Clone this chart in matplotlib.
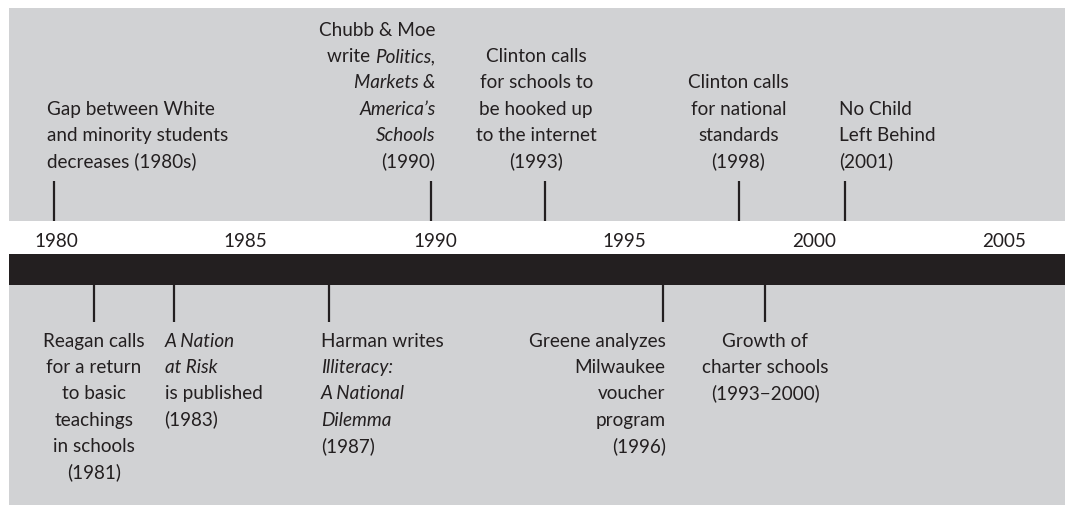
import matplotlib
matplotlib.use("Agg")
import matplotlib.pyplot as plt
from matplotlib import rc

rc('font', **{'family': 'Lato', 'size': 13.6})

# axis years shown under the grey panel
tick_years = [1980, 1985, 1990, 1995, 2000, 2005]

# events above the bar: position on the timeline (year), text lines
top_years = [1979.95, 1989.9, 1992.9, 1998.0, 2000.8]
top_texts = [
    [[('Gap between White', 'normal')],
     [('and minority students', 'normal')],
     [('decreases (1980s)', 'normal')]],
    [[('Chubb & Moe', 'normal')],
     [('write ', 'normal'), ('Politics,', 'italic')],
     [('Markets &', 'italic')],
     [('America\u2019s', 'italic')],
     [('Schools', 'italic')],
     [('(1990)', 'normal')]],
    [[('Clinton calls', 'normal')],
     [('for schools to', 'normal')],
     [('be hooked up', 'normal')],
     [('to the internet', 'normal')],
     [('(1993)', 'normal')]],
    [[('Clinton calls', 'normal')],
     [('for national', 'normal')],
     [('standards', 'normal')],
     [('(1998)', 'normal')]],
    [[('No Child', 'normal')],
     [('Left Behind', 'normal')],
     [('(2001)', 'normal')]],
]

# events below the bar
bottom_years = [1981.0, 1983.1, 1987.2, 1996.0, 1998.7]
bottom_texts = [
    [[('Reagan calls', 'normal')],
     [('for a return', 'normal')],
     [('to basic', 'normal')],
     [('teachings', 'normal')],
     [('in schools', 'normal')],
     [('(1981)', 'normal')]],
    [[('A Nation', 'italic')],
     [('at Risk', 'italic')],
     [('is published', 'normal')],
     [('(1983)', 'normal')]],
    [[('Harman writes', 'normal')],
     [('Illiteracy:', 'italic')],
     [('A National', 'italic')],
     [('Dilemma', 'italic')],
     [('(1987)', 'normal')]],
    [[('Greene analyzes', 'normal')],
     [('Milwaukee', 'normal')],
     [('voucher', 'normal')],
     [('program', 'normal')],
     [('(1996)', 'normal')]],
    [[('Growth of', 'normal')],
     [('charter schools', 'normal')],
     [('(1993\u22122000)', 'normal')]],
]

# layout: alignment and horizontal text offset (px) relative to each event line
top_align = ['left', 'right', 'center', 'center', 'left']
top_dx = [-7, 4, -9, 0, -6]
bottom_align = ['center', 'left', 'left', 'right', 'center']
bottom_dx = [0, -9, -8, 3, 0]

GREY = '#d1d2d4'
INK = '#231f20'
W, H = 1065, 506
PX_PER_YEAR = 37.92
X0 = 1980 - 56 / PX_PER_YEAR
X1 = X0 + W / PX_PER_YEAR
LINE_H = 26.2


def draw_lines(ax, x_year, dx, lines, ha, first_baseline, step):
    for i, segs in enumerate(lines):
        yb = first_baseline + i * step
        prev = None
        # mixed style lines are right aligned: draw last piece first
        for txt, st in reversed(segs):
            if prev is None:
                prev = ax.annotate(txt, xy=(x_year, yb), xytext=(dx, 0),
                                   textcoords='offset pixels', ha=ha,
                                   va='baseline', style=st, color=INK)
            else:
                prev = ax.annotate(txt, xy=(0, 0), xycoords=prev,
                                   ha='right', va='bottom', style=st,
                                   color=INK)


def plot():
    fig = plt.figure(figsize=(W / 100, H / 100), dpi=100)
    ax = fig.add_axes([0, 0, 1, 1])
    ax.set_xlim(X0, X1)
    ax.set_ylim(H, 0)
    ax.axis('off')

    left = X0 + 9 / PX_PER_YEAR
    ax.fill_between([left, X1], 9, 222, color=GREY, lw=0)
    ax.fill_between([left, X1], 286, H, color=GREY, lw=0)
    ax.fill_between([left, X1], 255, 286, color=INK, lw=0)

    for yr in tick_years:
        ax.text(yr, 247, str(yr), ha='center', va='baseline', color=INK)

    for yr, lines, ha, dx in zip(top_years, top_texts, top_align, top_dx):
        ax.plot([yr, yr], [182, 222], color=INK, lw=1.6, solid_capstyle='butt')
        n = len(lines)
        draw_lines(ax, yr, dx, lines, ha, 167 - (n - 1) * LINE_H, LINE_H)

    for yr, lines, ha, dx in zip(bottom_years, bottom_texts, bottom_align, bottom_dx):
        ax.plot([yr, yr], [286, 323], color=INK, lw=1.6, solid_capstyle='butt')
        draw_lines(ax, yr, dx, lines, ha, 347, LINE_H)

    fig.savefig('out.png', dpi=100)


plot()
